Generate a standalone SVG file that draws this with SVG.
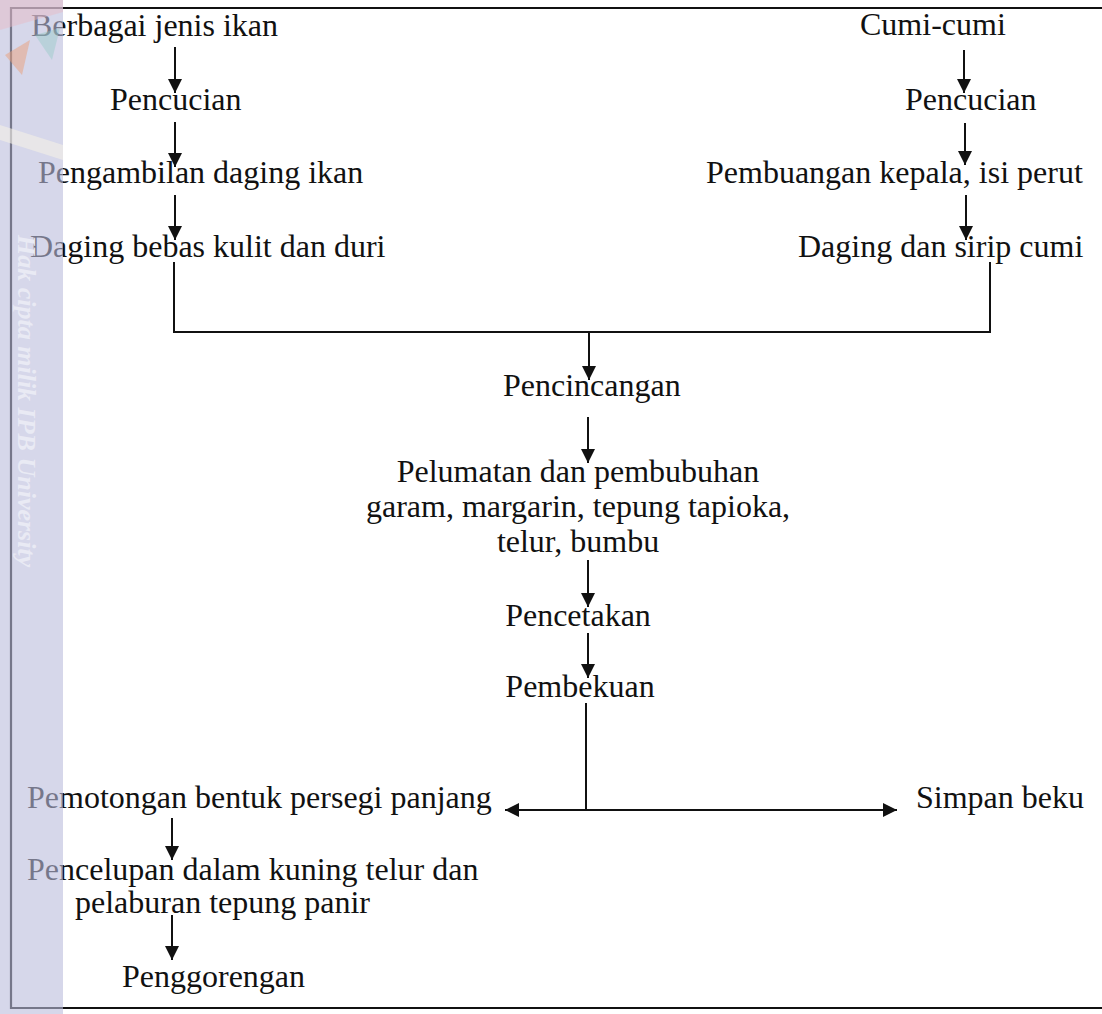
<svg xmlns="http://www.w3.org/2000/svg" width="1102" height="1014" viewBox="0 0 1102 1014">
<style>
  .t { font-family: "Liberation Serif", "Times New Roman", serif; font-size: 32px; fill: #111; }
  .c { stroke: #111; stroke-width: 2; fill: none; }
  .frame { stroke: #111; stroke-width: 2.2; fill: none; }
  .wm { font-family: "Liberation Serif", serif; font-size: 26px; font-style: italic; font-weight: bold; fill: #e9eaf4; }
</style>
<defs>
  <marker id="ah" markerUnits="userSpaceOnUse" markerWidth="14" markerHeight="16" viewBox="0 0 14 16" refX="14" refY="8" orient="auto">
    <path d="M0,1 L14,8 L0,15 Z" fill="#111"/>
  </marker>
  <marker id="ahs" markerUnits="userSpaceOnUse" markerWidth="14" markerHeight="16" viewBox="0 0 14 16" refX="0" refY="8" orient="auto">
    <path d="M14,1 L0,8 L14,15 Z" fill="#111"/>
  </marker>
</defs>
<rect x="0" y="0" width="1102" height="1014" fill="#fff"/>

<g id="frame">
  <polyline class="frame" points="1102,8 11,8 11,1008 1102,1008"/>
</g>

<g id="connectors">
  <line class="c" x1="175" y1="47" x2="175" y2="93" marker-end="url(#ah)"/>
  <line class="c" x1="175" y1="122" x2="175" y2="167" marker-end="url(#ah)"/>
  <line class="c" x1="175" y1="195" x2="175" y2="240" marker-end="url(#ah)"/>
  <line class="c" x1="964" y1="50" x2="964" y2="93" marker-end="url(#ah)"/>
  <line class="c" x1="965" y1="123" x2="965" y2="165" marker-end="url(#ah)"/>
  <line class="c" x1="966" y1="195" x2="966" y2="240" marker-end="url(#ah)"/>
  <polyline class="c" points="174,262 174,332 990,332 990,262"/>
  <line class="c" x1="589" y1="332" x2="589" y2="380" marker-end="url(#ah)"/>
  <line class="c" x1="588" y1="417" x2="588" y2="463" marker-end="url(#ah)"/>
  <line class="c" x1="588" y1="560" x2="588" y2="607" marker-end="url(#ah)"/>
  <line class="c" x1="588" y1="633" x2="588" y2="678" marker-end="url(#ah)"/>
  <line class="c" x1="586" y1="703" x2="586" y2="810"/>
  <line class="c" x1="505" y1="810" x2="897" y2="810" marker-start="url(#ahs)" marker-end="url(#ah)"/>
  <line class="c" x1="172" y1="818" x2="172" y2="860" marker-end="url(#ah)"/>
  <line class="c" x1="172" y1="915" x2="172" y2="960" marker-end="url(#ah)"/>
</g>

<g id="n-ikan"><text class="t" x="31" y="36">Berbagai jenis ikan</text></g>
<g id="n-pencucian1"><text class="t" x="110" y="110">Pencucian</text></g>
<g id="n-pengambilan"><text class="t" x="38" y="183">Pengambilan daging ikan</text></g>
<g id="n-daging-ikan"><text class="t" x="30" y="257">Daging bebas kulit dan duri</text></g>

<g id="n-cumi"><text class="t" x="860" y="35">Cumi-cumi</text></g>
<g id="n-pencucian2"><text class="t" x="905" y="110">Pencucian</text></g>
<g id="n-pembuangan"><text class="t" x="706" y="183">Pembuangan kepala, isi perut</text></g>
<g id="n-daging-cumi"><text class="t" x="798" y="257">Daging dan sirip cumi</text></g>

<g id="n-pencincangan"><text class="t" x="503" y="396">Pencincangan</text></g>
<g id="n-pelumatan">
  <text class="t" x="578" y="482" text-anchor="middle">Pelumatan dan pembubuhan</text>
  <text class="t" x="578" y="517" text-anchor="middle">garam, margarin, tepung tapioka,</text>
  <text class="t" x="578" y="552" text-anchor="middle">telur, bumbu</text>
</g>
<g id="n-pencetakan"><text class="t" x="578" y="626" text-anchor="middle">Pencetakan</text></g>
<g id="n-pembekuan"><text class="t" x="580" y="697" text-anchor="middle">Pembekuan</text></g>

<g id="n-pemotongan"><text class="t" x="27" y="808">Pemotongan bentuk persegi panjang</text></g>
<g id="n-simpan"><text class="t" x="916" y="808">Simpan beku</text></g>
<g id="n-pencelupan">
  <text class="t" x="27" y="880">Pencelupan dalam kuning telur dan</text>
  <text class="t" x="75" y="913">pelaburan tepung panir</text>
</g>
<g id="n-penggorengan"><text class="t" x="122" y="987">Penggorengan</text></g>

<g id="watermark">
  <rect x="0" y="0" width="63" height="1014" fill="#bbbcdc" opacity="0.6"/>
  <polygon points="0,0 63,0 63,12 0,30" fill="#e8b8c4" opacity="0.45"/>
  <polygon points="5,55 30,40 22,75" fill="#e9a07a" opacity="0.5"/>
  <polygon points="35,35 60,28 52,60" fill="#8fc9c4" opacity="0.4"/>
  <polygon points="0,125 63,145 63,160 0,140" fill="#f4f0e6" opacity="0.6"/>
  <text class="wm" transform="translate(18,235) rotate(90)">Hak cipta milik IPB University</text>
</g>
</svg>
